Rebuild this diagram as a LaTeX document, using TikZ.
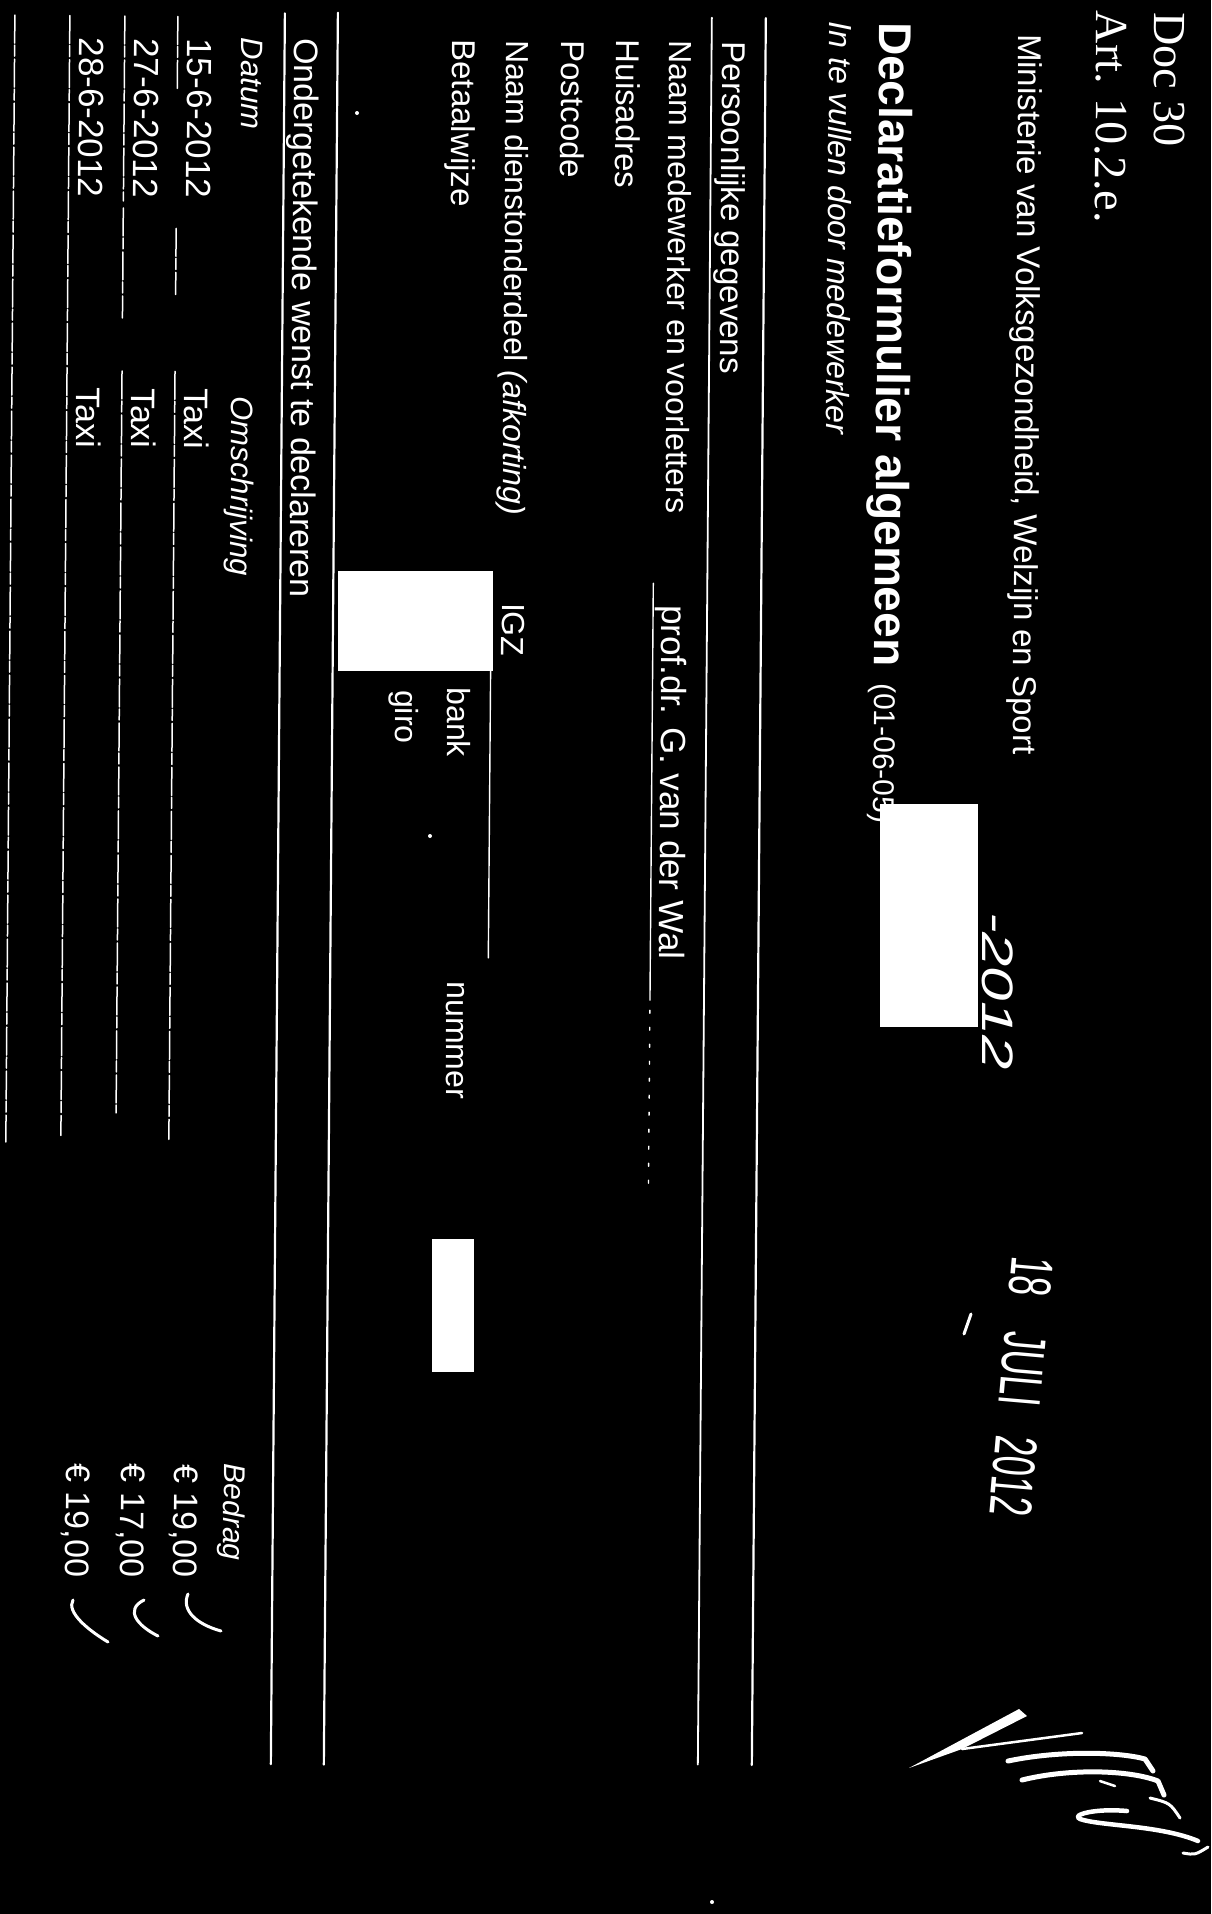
\documentclass[tikz,border=0pt]{standalone}
\usepackage{fontspec}
\setmainfont{Liberation Sans}
\newfontfamily\docserif{Liberation Serif}
\usepackage{tikz}
\usetikzlibrary{positioning}
\newcommand\fsz[1]{\fontsize{#1}{#1}\selectfont}

\tikzset{
  txt/.style={text=white, inner sep=0pt, outer sep=0pt, rotate=-90.46, anchor=base west, font=\fsz{33}},
  hand/.style={text=white, inner sep=0pt, outer sep=0pt, anchor=base west},
  formrule/.style={white, line width=2.2pt},
  scanline/.style={white, line width=1.5pt, dash pattern=on 28pt off 2pt on 11pt off 3pt},
  pen/.style={white, line width=3.5pt, line cap=round, line join=round},
  blot/.style={fill=white, draw=none},
}

\begin{document}
\begin{tikzpicture}[x=1pt, y=-1pt, line cap=round, line join=round]
    % page
    \fill[black] (0,0) rectangle (1211,1914);
    \useasboundingbox (0,0) rectangle (1211,1914);

    % printed form (scanned a little askew)
    \begin{scope}[rotate=-0.46]
    % header
    \node[txt, font=\docserif\fsz{46}] (doc) at (1155,3) {Doc 30};
    \node[txt, font=\docserif\fsz{46}] (art) at (1097,2) {Art. 10.2.e.};
    \node[txt] (ministerie) at (1019,26) {Ministerie van Volksgezondheid, Welzijn en Sport};
    \node[txt, font=\bfseries\fsz{46}] (titel) at (880,15) {Declaratieformulier algemeen};
    \node[txt, font=\fsz{30}] (versie) at (880,676) {(01-06-05)};
    \node[txt, font=\itshape\fsz{32}] (invullen) at (830,15) {In te vullen door medewerker};

    % horizontal rules of the form
    \draw[formrule] (766,12) -- (766,1759);
    \draw[formrule, line width=1.8pt] (712,12) -- (712,1759);
    \draw[formrule] (338,10) -- (338,1762);
    \draw[formrule] (285,11) -- (285,1762);

    % persoonlijke gegevens
    \node[txt] (pers) at (723,36) {Persoonlijke gegevens};
    \node[txt, font=\fsz{32}] (naam) at (670,35) {Naam medewerker en voorletters};
    \node[txt] (adres) at (617,35) {Huisadres};
    \node[txt] (postcode) at (562,36) {Postcode};
    \node[txt, font=\fsz{32}] (dienst) at (507,36) {Naam dienstonderdeel \textit{(afkorting)}};
    \node[txt] (betaal) at (453,36) {Betaalwijze};

    % filled in values
    \node[txt, font=\fsz{35}] (wie) at (667,600) {prof.dr. G. van der Wal};
    \draw[formrule, line width=1.4pt] (658,578) -- (658,995);
    \draw[white, line width=1.4pt, dash pattern=on 3pt off 14pt] (658,1005) -- (658,1190);
    \node[txt, font=\fsz{32}] (igz) at (507,599) {IGZ};
    \draw[formrule, line width=1.4pt] (496,580) -- (496,954);
    \node[txt, font=\fsz{32}] (bank) at (453,684) {bank};
    \node[txt, font=\fsz{32}] (giro) at (401,687) {giro};
    \node[txt, font=\fsz{32}] (nummer) at (455,978) {nummer};

    % declaraties
    \node[txt, font=\fsz{34}] (onder) at (295,36) {Ondergetekende wenst te declareren};
    \node[txt, font=\itshape\fsz{31}] (datum) at (242,36) {Datum};
    \node[txt, font=\itshape\fsz{31}] (omschr) at (235,395) {Omschrijving};
    \node[txt, font=\itshape\fsz{30}] (bedrag) at (236,1462) {Bedrag};
    \foreach \i/\bx/\dat/\bed in {1/188/15-6-2012/{19,00}, 2/135/27-6-2012/{17,00}, 3/80/28-6-2012/{19,00}} {
        \node[txt, font=\fsz{35}] (dat\i) at (\bx,37) {\dat};
        \node[txt, font=\fsz{34}] (oms\i) at (\bx,387) {Taxi};
        \node[txt, font=\fsz{34}] (bed\i) at (\bx-2,1463) {€ \bed};
    }
    \draw[scanline] (178,15) -- (178,87) (178,227) -- (178,293) (178,370) -- (178,1138);
    \draw[scanline] (125,15) -- (125,200) (125,207) -- (125,317) (125,370) -- (125,1112);
    \draw[scanline] (70,15) -- (70,1135);
    \draw[scanline] (15,15) -- (15,1142);
    \end{scope}

    % specks
    \fill[white] (357,113) circle (2);
    \fill[white] (430,836) circle (2);
    \fill[white] (712,1902) circle (2);

    % handwriting: date next to the version
    \node[hand, rotate=-90, font=\itshape\fsz{44}] (handdatum) at (982,912) {\scalebox{1.4}[1]{-2012}};

    % redactions
    \fill[blot] (880,804) rectangle (978,1027);
    \fill[blot] (338,571) rectangle (493,671);
    \fill[blot] (432,1239) rectangle (474,1372);

    % date stamp
    \node[hand, rotate=-95, font=\fsz{60}] (stempel) at (1012,1255)
        {\scalebox{0.6}[1]{18\hspace{60pt}JULI\hspace{50pt}2012}};
    \draw[pen, line width=3pt] (971,1314) -- (964,1334);

    % ticks after the amounts
    \draw[pen, line width=3pt] (188,1594) .. controls (181,1610) and (196,1624) .. (221,1631);
    \draw[pen, line width=3pt] (144,1600) .. controls (124,1610) and (138,1626) .. (158,1636);
    \draw[pen, line width=3pt] (73,1600) .. controls (66,1612) and (88,1630) .. (108,1642);

    % signature
    \fill[white] (909,1768) -- (1019,1709) -- (1027,1716) -- (962,1749) -- cycle;
    \draw[pen, line width=2.5pt] (962,1749) -- (1082,1733);
    \draw[pen, line width=5pt] (1008,1761) .. controls (1060,1750) and (1120,1752) .. (1145,1759) -- (1153,1771);
    \draw[pen, line width=5pt] (1022,1780) .. controls (1070,1768) and (1130,1770) .. (1158,1781) -- (1164,1795);
    \draw[pen, line width=2.5pt] (1100,1781) -- (1115,1786);
    \draw[pen, line width=3pt] (1150,1798) .. controls (1170,1803) .. (1180,1818);
    \draw[pen, line width=4.5pt] (1127,1811) .. controls (1095,1808) and (1070,1815) .. (1080,1819) .. controls (1100,1826) and (1160,1825) .. (1198,1841);
    \draw[pen, line width=3pt] (1183,1853) .. controls (1195,1855) .. (1208,1847);
\end{tikzpicture}
\end{document}
